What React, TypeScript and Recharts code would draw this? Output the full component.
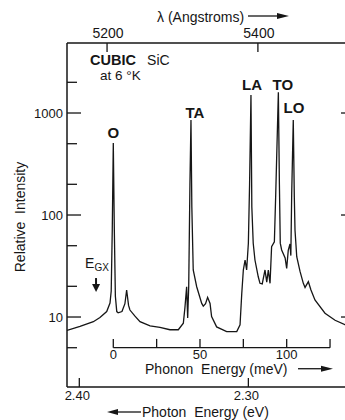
import React from 'react'
import { ComposedChart, Line, XAxis, YAxis, ReferenceLine, ReferenceDot } from 'recharts'

// spectrum: phonon energy (meV) vs relative intensity
const phononMeV = [
  -26.7, -19.2, -11.5, -7.7, -3.8, -1.9, -1.2, -0.6, 0, 0.6, 1.2, 2.0, 2.8, 5.0, 6.7, 7.7, 8.8, 9.6,
  12.5, 15.4, 21.2, 26.9, 32.7, 37.5, 40.4, 41.3, 42.3, 42.9, 43.5, 44.2, 44.8, 45.3, 46.1, 48.1,
  51.0, 51.9, 53.2, 54.4, 55.8, 56.7, 59.6, 65.4, 71.2, 73.1, 74.1, 75.0, 76.0, 76.9, 77.9, 78.6,
  79.4, 79.9, 80.7, 81.7, 83.6, 84.6, 85.9, 87.5, 88.5, 89.4, 90.4, 91.3, 92.9, 93.7, 95.2, 95.8,
  96.3, 97.1, 99.1, 100.0, 100.9, 101.9, 102.4, 102.9, 103.8, 104.4, 104.8, 105.8, 107.7, 109.6,
  110.6, 112.5, 114.0, 116.3, 122.1, 127.9, 133.6, 139.4,
]
const intensity = [
  7.4, 8.1, 9.0, 9.9, 11.3, 13.7, 18, 70, 508, 70, 16, 11.3, 11.0, 11.3, 13.5, 18.4, 13.0, 11.7,
  10.2, 9.0, 8.2, 7.9, 7.5, 7.5, 8.7, 12.3, 19.8, 9.8, 20, 200, 853, 120, 28.9, 19.8,
  13.6, 12.8, 13.5, 15.6, 13.6, 10.1, 8.0, 7.2, 7.2, 8.4, 17.1, 28.9, 36.2, 28.9, 52.8, 200,
  1500, 120, 52.8, 36.2, 24.8, 21.4, 21.1, 28.9, 22.0, 28.9, 21.4, 48.9, 54.7, 164, 1600, 200,
  53, 45.4, 37.9, 30.0, 45, 52, 40, 164, 853, 150, 71, 39, 28, 21.4,
  19.5, 22.2, 18.4, 14.7, 10.9, 9.3, 8.4, 7.9,
]

const intensityTicks = [5, 10, 20, 50, 100, 200, 500, 1000, 2000]
const majorTicks = [10, 100, 1000]

// the wavelength and photon energy scales, placed on the phonon-energy scale
const lambdaTickMeV = [-3.6, 83.4]
const lambdaTickLabels = ['5200', '5400']
const photonTickMeV = [-19.6, 77.9]
const photonTickLabels = ['2.40', '2.30']

const phononTicks = [0, 25, 50, 75, 100, 125]
const phononLabels = [0, 50, 100]

const peakNames = ['O', 'TA', 'LA', 'TO', 'LO']
const peakLabelMeV = [0, 47.1, 80.0, 97.8, 104.2]
const peakLabelValue = [569, 893, 1679, 1679, 1000]

const data = phononMeV.map((mev, i) => ({ mev, value: intensity[i] }))

const MEV_DOMAIN = [-26.7, 139.4]
const INK = '#161616'
const FONT = '"Liberation Sans", Arial, sans-serif'

function LeftTick({ x, y, payload }: any) {
  const major = majorTicks.includes(payload.value)
  return (
    <g>
      <line x1={x} y1={y} x2={x + (major ? 14 : 10)} y2={y} stroke={INK} strokeWidth={1.3} />
      {major && (
        <text x={x - 4} y={y + 4.5} textAnchor="end" fontSize={13} fontFamily={FONT} fill={INK}>
          {payload.value}
        </text>
      )}
    </g>
  )
}

function RightTick({ x, y }: any) {
  return <line x1={x} y1={y} x2={x - 14} y2={y} stroke={INK} strokeWidth={1.3} />
}

function TopTick({ x, y, payload }: any) {
  const label = lambdaTickLabels[lambdaTickMeV.indexOf(payload.value)]
  return (
    <g>
      <line x1={x} y1={y} x2={x} y2={y + 9} stroke={INK} strokeWidth={1.3} />
      <text x={x + 1} y={y - 5} textAnchor="middle" fontSize={14} fontFamily={FONT} fill={INK}>
        {label}
      </text>
    </g>
  )
}

function BottomTick({ x, y, payload }: any) {
  const label = photonTickLabels[photonTickMeV.indexOf(payload.value)]
  return (
    <g>
      <line x1={x} y1={y} x2={x} y2={y - 9} stroke={INK} strokeWidth={1.3} />
      <text x={x - 2} y={y + 13} textAnchor="middle" fontSize={13} fontFamily={FONT} fill={INK}>
        {label}
      </text>
    </g>
  )
}

function LambdaTitle({ viewBox }: any) {
  const x = viewBox.x + 90
  return (
    <g>
      <text x={x} y={22} fontSize={14} fontFamily={FONT} fill={INK}>λ (Angstroms)</text>
      <line x1={x + 91} y1={16} x2={x + 122} y2={16} stroke={INK} strokeWidth={1.3} />
      <polygon points={`${x + 132},16 ${x + 120},13 ${x + 120},19`} fill={INK} />
    </g>
  )
}

function PhotonTitle({ viewBox }: any) {
  const x = viewBox.x + 40
  const y = viewBox.y + 30
  return (
    <g>
      <polygon points={`${x},${y - 5} ${x + 11},${y - 8} ${x + 11},${y - 2}`} fill={INK} />
      <line x1={x + 9} y1={y - 5} x2={x + 34} y2={y - 5} stroke={INK} strokeWidth={1.3} />
      <text x={x + 35} y={y} fontSize={14} fontFamily={FONT} fill={INK} style={{ whiteSpace: 'pre' }}>
        Photon  Energy (eV)
      </text>
    </g>
  )
}

function IntensityTitle({ viewBox }: any) {
  const cx = 25
  const cy = viewBox.y + 174
  return (
    <text
      x={cx}
      y={cy}
      transform={`rotate(-90 ${cx} ${cy})`}
      textAnchor="middle"
      fontSize={14}
      fontFamily={FONT}
      fill={INK}
      style={{ whiteSpace: 'pre' }}
    >
      Relative  Intensity
    </text>
  )
}

export default function App() {
  return (
    <div style={{ position: 'absolute', left: 0, top: 0, width: 345, height: 420, overflow: 'hidden', background: '#fff' }}>
      <ComposedChart width={360} height={420} data={data} margin={{ top: 0, right: 0, bottom: 0, left: 0 }}>
        <XAxis xAxisId="mev" dataKey="mev" type="number" domain={MEV_DOMAIN} allowDataOverflow hide />
        <XAxis
          xAxisId="lam"
          dataKey="mev"
          orientation="top"
          type="number"
          domain={MEV_DOMAIN}
          allowDataOverflow
          ticks={lambdaTickMeV}
          interval={0}
          height={43}
          tickSize={0}
          tickMargin={0}
          tick={<TopTick />}
          axisLine={{ stroke: INK, strokeWidth: 1.5 }}
          label={LambdaTitle}
        />
        <XAxis
          xAxisId="ev"
          dataKey="mev"
          orientation="bottom"
          type="number"
          domain={MEV_DOMAIN}
          allowDataOverflow
          ticks={photonTickMeV}
          interval={0}
          height={33}
          tickSize={0}
          tickMargin={0}
          tick={<BottomTick />}
          axisLine={{ stroke: INK, strokeWidth: 1.5 }}
          label={PhotonTitle}
        />
        <YAxis
          yAxisId="i"
          scale="log"
          type="number"
          domain={[2.06, 4856]}
          allowDataOverflow
          ticks={intensityTicks}
          interval={0}
          width={67}
          tickSize={0}
          tickMargin={0}
          tick={<LeftTick />}
          axisLine={{ stroke: INK, strokeWidth: 1.5 }}
          label={IntensityTitle}
        />
        <YAxis
          yAxisId="r"
          orientation="right"
          scale="log"
          type="number"
          domain={[2.06, 4856]}
          allowDataOverflow
          ticks={majorTicks}
          interval={0}
          width={5}
          tickSize={0}
          tickMargin={0}
          tick={<RightTick />}
          axisLine={{ stroke: INK, strokeWidth: 1.5 }}
        />

        {/* inner phonon-energy axis */}
        <ReferenceLine
          xAxisId="mev"
          yAxisId="i"
          segment={[{ x: 0, y: 5 }, { x: 125, y: 5 }]}
          stroke={INK}
          strokeWidth={1.3}
        />
        {phononTicks.map((t) => (
          <ReferenceLine
            key={'pt' + t}
            xAxisId="mev"
            yAxisId="i"
            segment={[{ x: t, y: 5 }, { x: t, y: 6.1 }]}
            stroke={INK}
            strokeWidth={1.3}
          />
        ))}
        {phononLabels.map((t) => (
          <ReferenceDot
            key={'pl' + t}
            xAxisId="mev"
            yAxisId="i"
            x={t}
            y={3.85}
            shape={(p: any) => (
              <text x={p.cx} y={p.cy} textAnchor="middle" fontSize={13} fontFamily={FONT} fill={INK}>
                {t}
              </text>
            )}
          />
        ))}
        <ReferenceDot
          xAxisId="mev"
          yAxisId="i"
          x={18.3}
          y={2.78}
          shape={(p: any) => (
            <g>
              <text x={p.cx} y={p.cy} fontSize={14} fontFamily={FONT} fill={INK} style={{ whiteSpace: 'pre' }}>
                Phonon  Energy (meV)
              </text>
              <line x1={p.cx + 153} y1={p.cy - 5} x2={p.cx + 178} y2={p.cy - 5} stroke={INK} strokeWidth={1.3} />
              <polygon points={`${p.cx + 188},${p.cy - 5} ${p.cx + 176},${p.cy - 8} ${p.cx + 176},${p.cy - 2}`} fill={INK} />
            </g>
          )}
        />

        {/* sample note */}
        <ReferenceDot
          xAxisId="mev"
          yAxisId="i"
          x={-13.4}
          y={2950}
          shape={(p: any) => (
            <g fontFamily={FONT} fill={INK}>
              <text x={p.cx} y={p.cy} fontSize={14.5} fontWeight="bold">CUBIC</text>
              <text x={p.cx + 57} y={p.cy} fontSize={14}>SiC</text>
              <text x={p.cx + 10} y={p.cy + 15} fontSize={13.5}>at 6 °K</text>
            </g>
          )}
        />

        {/* exciton gap marker */}
        <ReferenceDot
          xAxisId="mev"
          yAxisId="i"
          x={-16.3}
          y={30.2}
          shape={(p: any) => (
            <g fontFamily={FONT} fill={INK}>
              <text x={p.cx} y={p.cy}>
                <tspan fontSize={14}>E</tspan>
                <tspan fontSize={10} dy={3}>GX</tspan>
              </text>
              <line x1={p.cx + 11} y1={p.cy + 10} x2={p.cx + 11} y2={p.cy + 18} stroke={INK} strokeWidth={2} />
              <polygon points={`${p.cx + 7},${p.cy + 16} ${p.cx + 15},${p.cy + 16} ${p.cx + 11},${p.cy + 24}`} fill={INK} />
            </g>
          )}
        />

        {peakNames.map((name, i) => (
          <ReferenceDot
            key={name}
            xAxisId="mev"
            yAxisId="i"
            x={peakLabelMeV[i]}
            y={peakLabelValue[i]}
            shape={(p: any) => (
              <text x={p.cx} y={p.cy} textAnchor="middle" fontSize={15} fontWeight="bold" fontFamily={FONT} fill={INK}>
                {name}
              </text>
            )}
          />
        ))}

        <Line
          xAxisId="mev"
          yAxisId="i"
          type="linear"
          dataKey="value"
          stroke={INK}
          strokeWidth={1.3}
          dot={false}
          activeDot={false}
          isAnimationActive={false}
        />
      </ComposedChart>
    </div>
  )
}
